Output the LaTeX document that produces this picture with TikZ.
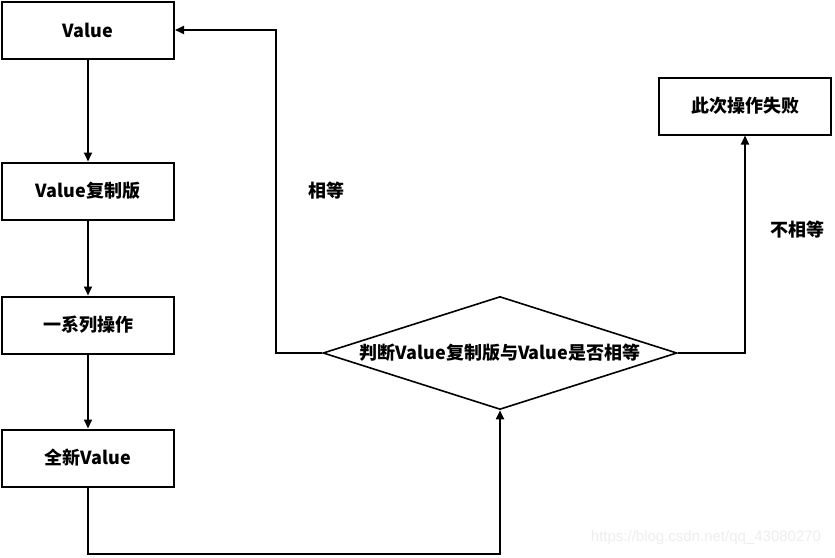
\documentclass[tikz,border=0pt]{standalone}
\usepackage{fontspec}
\newfontfamily\cjk{Noto Sans CJK SC}
\newfontfamily\wmfont{Liberation Sans}
\usetikzlibrary{arrows.meta,shapes.geometric}

\begin{document}
\begin{tikzpicture}[x=1pt,y=-1pt,>={Triangle[length=9pt,width=8pt]},line join=miter,
  box/.style={draw,line width=2pt,minimum width=172pt,minimum height=57pt,inner sep=0pt,font=\cjk\bfseries\fontsize{18}{20}\selectfont},
  decide/.style={draw,diamond,line width=1.6pt,aspect=3.13,minimum width=354pt,minimum height=113pt,inner sep=0pt,font=\cjk\bfseries\fontsize{18}{20}\selectfont},
  flow/.style={->,line width=1.8pt},
  lbl/.style={font=\cjk\bfseries\fontsize{18}{20}\selectfont}]
  \useasboundingbox (0,0) rectangle (835,557);

  \node[box] (val) at (88,30) {Value};
  \node[box] (copy) at (88,191) {Value复制版};
  \node[box] (ops) at (88,325) {一系列操作};
  \node[box] (new) at (88,458) {全新Value};
  \node[decide] (dec) at (500,353) {判断Value复制版与Value是否相等};
  \node[box] (fail) at (745,106) {此次操作失败};

  \coordinate (bl) at (88,554);
  \coordinate (tl) at (276,30);

  \draw[flow] (val) -- (copy);
  \draw[flow] (copy) -- (ops);
  \draw[flow] (ops) -- (new);
  \draw[flow] (new.south) -- (bl) -| (dec.south);
  \draw[flow] (dec.west) -| (tl) -- (val.east);
  \draw[flow] (dec.east) -| (fail.south);

  \node[lbl] (eq) at (326,191) {相等};
  \node[lbl] (neq) at (797,230) {不相等};
  \node[text=gray!14,font=\wmfont\fontsize{15}{17}\selectfont] (wm) at (706,538) {https://blog.csdn.net/qq\_43080270};
\end{tikzpicture}
\end{document}
